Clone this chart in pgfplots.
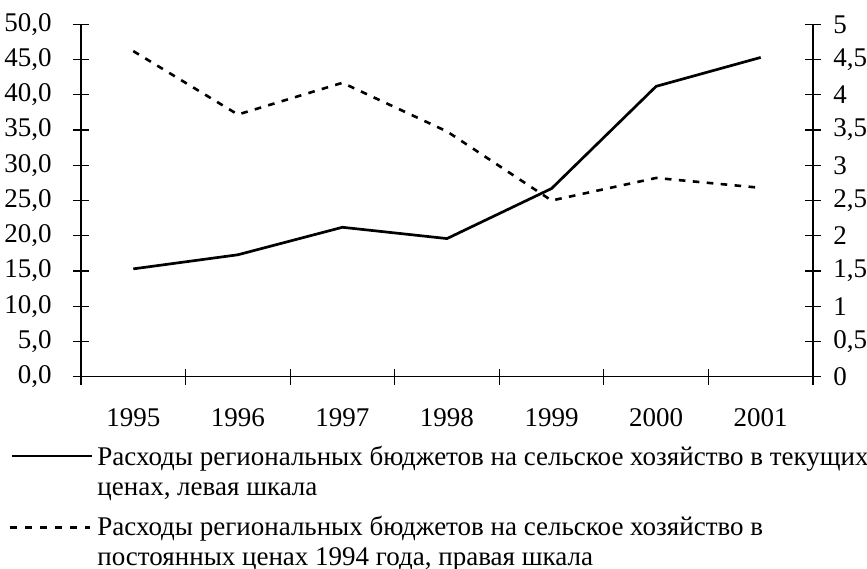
\documentclass[border=0pt]{standalone}
\usepackage{fontspec}
\setmainfont{Liberation Serif}
\usepackage{pgfplots}
\pgfplotsset{compat=1.18}
\newcommand{\chartfont}{\fontsize{13.5}{16}\selectfont}
\begin{document}
\begin{tikzpicture}[x=1pt,y=1pt]
\path[use as bounding box] (-40.5,-95.65) rectangle (393,188.35);
\begin{axis}[
  at={(0,0)}, anchor=south west, scale only axis,
  width=366pt, height=176.2pt,
  xmin=-0.5, xmax=6.5, ymin=0, ymax=50,
  axis x line*=bottom, axis y line*=left,
  axis line style={-, line width=0.6pt},
  every tick/.style={black, line width=0.6pt},
  tick align=center,
  major tick length=8pt,
  xtick={-0.5,0.5,1.5,2.5,3.5,4.5,5.5,6.5},
  xticklabels={{},{},{},{},{},{},{},{}},
  extra x ticks={0,1,2,3,4,5,6},
  extra x tick labels={1995,1996,1997,1998,1999,2000,2001},
  extra x tick style={major tick length=0pt, xticklabel style={anchor=base, yshift=-25pt}},
  ytick={0,5,...,50},
  yticklabel style={xshift=-7.1pt},
  /pgf/number format/assume math mode=true,
  /pgf/number format/.cd, fixed, fixed zerofill, precision=1, use comma,
  /pgfplots/.cd,
  tick label style={font=\chartfont},
  clip=false,
]
\addplot[black, line width=1.35pt] coordinates {
  (0,15.3) (1,17.3) (2,21.2) (3,19.6) (4,26.7) (5,41.2) (6,45.3)
};
\end{axis}
\begin{axis}[
  at={(0,0)}, anchor=south west, scale only axis,
  width=366pt, height=176.2pt,
  xmin=-0.5, xmax=6.5, ymin=0, ymax=5,
  axis x line=none, axis y line*=right,
  axis line style={-, line width=0.6pt},
  every tick/.style={black, line width=0.6pt},
  tick align=center,
  major tick length=8pt,
  ytick={0,0.5,...,5},
  yticklabel style={xshift=2.6pt},
  /pgf/number format/assume math mode=true,
  /pgf/number format/.cd, fixed, precision=1, use comma,
  /pgfplots/.cd,
  tick label style={font=\chartfont},
  clip=false,
]
\addplot[black, line width=1.3pt, dash pattern=on 3.3pt off 3.7pt] coordinates {
  (0,4.62) (1,3.72) (2,4.17) (3,3.48) (4,2.50) (5,2.82) (6,2.68)
};
\end{axis}
\draw[black, line width=1.3pt] (-34.5,-39.65) -- (5.5,-39.65);
\draw[black, line width=1.3pt, dash pattern=on 3.3pt off 4.2pt] (-35.5,-75.5) -- (4.5,-75.5);
\node[anchor=base west, inner sep=0pt, font=\chartfont] at (8,-44.15) {Расходы региональных бюджетов на сельское хозяйство в текущих};
\node[anchor=base west, inner sep=0pt, font=\chartfont] at (8,-59.15) {ценах, левая шкала};
\node[anchor=base west, inner sep=0pt, font=\chartfont] at (8,-79.15) {Расходы региональных бюджетов на сельское хозяйство в};
\node[anchor=base west, inner sep=0pt, font=\chartfont] at (8,-94.15) {постоянных ценах 1994 года, правая шкала};
\end{tikzpicture}
\end{document}
